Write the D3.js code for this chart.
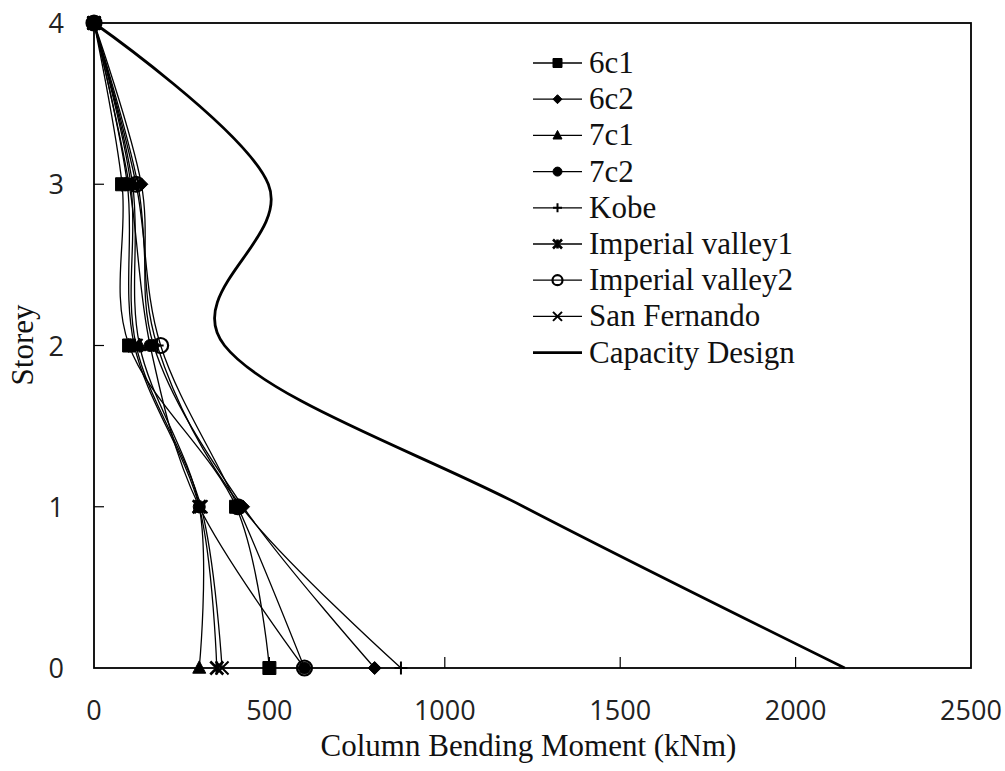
<!DOCTYPE html>
<html>
<head>
<meta charset="utf-8">
<script src="https://cdn.jsdelivr.net/npm/d3@7/dist/d3.min.js"></script>
<style>
  html, body { margin: 0; padding: 0; background: #fff; }
  svg { display: block; }
</style>
</head>
<body>
<svg id="chart" width="1005" height="771"></svg>
<script>
// Storey levels (y values) shared by every series
const storeys = [0, 1, 2, 3, 4];

// Column bending moment (kNm) at storeys 0..4 for each record
const series6c1 = [500, 405, 100, 80, 0];
const series6c2 = [800, 425, 170, 135, 0];
const series7c1 = [300, 300, 130, 110, 0];
const series7c2 = [600, 300, 160, 100, 0];
const seriesKobe = [875, 420, 180, 125, 0];
const seriesImperial1 = [350, 300, 115, 95, 0];
const seriesImperial2 = [600, 410, 190, 120, 0];
const seriesSanFernando = [365, 305, 120, 105, 0];
const capacityDesign = [2140, 1225, 372, 497, 0];

const seriesNames = ["6c1", "6c2", "7c1", "7c2", "Kobe", "Imperial valley1", "Imperial valley2", "San Fernando"];
const seriesValues = [series6c1, series6c2, series7c1, series7c2, seriesKobe, seriesImperial1, seriesImperial2, seriesSanFernando];
const markerKinds = ["square", "diamond", "triangle", "circle", "plus", "asterisk", "opencircle", "times"];

const xTicks = [0, 500, 1000, 1500, 2000, 2500];
const yTicks = [0, 1, 2, 3, 4];

const svg = d3.select("#chart");
const plot = { left: 94, right: 971, top: 23, bottom: 668 };

const x = d3.scaleLinear().domain([0, 2500]).range([plot.left, plot.right]);
const y = d3.scaleLinear().domain([0, 4]).range([plot.bottom, plot.top]);

// Marker shapes, drawn around (0,0) with half-size r
function markerPath(kind, r) {
  const p = d3.path();
  switch (kind) {
    case "square":
      p.rect(-r, -r, 2 * r, 2 * r); break;
    case "diamond":
      p.moveTo(0, -r); p.lineTo(r, 0); p.lineTo(0, r); p.lineTo(-r, 0); p.closePath(); break;
    case "triangle":
      p.moveTo(0, -r * 1.1); p.lineTo(r, r * 0.8); p.lineTo(-r, r * 0.8); p.closePath(); break;
    case "circle":
    case "opencircle":
      p.moveTo(r, 0); p.arc(0, 0, r, 0, 2 * Math.PI); break;
    case "plus":
      p.moveTo(-r, 0); p.lineTo(r, 0); p.moveTo(0, -r); p.lineTo(0, r); break;
    case "times":
      p.moveTo(-r, -r); p.lineTo(r, r); p.moveTo(-r, r); p.lineTo(r, -r); break;
    case "asterisk":
      p.moveTo(-r, -r); p.lineTo(r, r); p.moveTo(-r, r); p.lineTo(r, -r);
      p.moveTo(0, -r); p.lineTo(0, r); break;
  }
  return p.toString();
}
function markerStyle(sel, kind) {
  const filled = ["square", "diamond", "triangle", "circle"].includes(kind);
  sel.attr("fill", filled ? "#000" : "none")
     .attr("stroke", "#000")
     .attr("stroke-width", filled ? 1 : (kind === "opencircle" ? 2.2 : (kind === "asterisk" ? 2.6 : 2)));
}
const markerSize = { square: 6.5, diamond: 6.5, triangle: 6.5, circle: 6, opencircle: 7.5, plus: 6.5, times: 6.5, asterisk: 6.5 };

// Axis tick labels
const tickFont = "'Open Sans', 'Liberation Sans', sans-serif";
svg.append("g").selectAll("text").data(xTicks).join("text")
  .attr("x", d => x(d)).attr("y", 720)
  .attr("text-anchor", "middle")
  .attr("font-family", tickFont).attr("font-size", 27).attr("fill", "#222")
  .text(d => d);
svg.append("g").selectAll("text").data(yTicks).join("text")
  .attr("x", 64).attr("y", d => y(d) + 10)
  .attr("text-anchor", "end")
  .attr("font-family", tickFont).attr("font-size", 27).attr("fill", "#222")
  .text(d => d);

// Inward tick marks
svg.append("g").selectAll("line").data(xTicks.slice(1, -1)).join("line")
  .attr("x1", d => x(d)).attr("x2", d => x(d))
  .attr("y1", plot.bottom).attr("y2", plot.bottom - 11)
  .attr("stroke", "#000").attr("stroke-width", 1.2);
svg.append("g").selectAll("line").data(yTicks.slice(1, -1)).join("line")
  .attr("x1", plot.left).attr("x2", plot.left + 10)
  .attr("y1", d => y(d)).attr("y2", d => y(d))
  .attr("stroke", "#000").attr("stroke-width", 1.2);

// Plot frame
svg.append("rect")
  .attr("x", plot.left).attr("y", plot.top)
  .attr("width", plot.right - plot.left).attr("height", plot.bottom - plot.top)
  .attr("fill", "none").attr("stroke", "#000").attr("stroke-width", 1.8);

// Axis titles
const serif = "'Liberation Serif', 'Times New Roman', serif";
svg.append("text")
  .attr("x", (plot.left + plot.right) / 2 - 4).attr("y", 756)
  .attr("text-anchor", "middle")
  .attr("font-family", serif).attr("font-size", 31).attr("fill", "#111")
  .text("Column Bending Moment (kNm)");
svg.append("text")
  .attr("transform", "translate(33,345) rotate(-90)")
  .attr("text-anchor", "middle")
  .attr("font-family", serif).attr("font-size", 31).attr("fill", "#111")
  .text("Storey");

// Smoothed lines through the storey points
const smooth = d3.line()
  .x(d => x(d[0])).y(d => y(d[1]))
  .curve(d3.curveCatmullRom.alpha(0));
const toPoints = vals => vals.map((v, i) => [v, storeys[i]]);

svg.append("path")
  .attr("d", smooth(toPoints(capacityDesign)))
  .attr("fill", "none").attr("stroke", "#000").attr("stroke-width", 2.8);

const lines = svg.append("g");
seriesValues.forEach(vals => {
  lines.append("path")
    .attr("d", smooth(toPoints(vals)))
    .attr("fill", "none").attr("stroke", "#000").attr("stroke-width", 1.3);
});

const marks = svg.append("g");
seriesValues.forEach((vals, si) => {
  const kind = markerKinds[si];
  marks.selectAll(null).data(toPoints(vals)).join("path")
    .attr("transform", d => `translate(${x(d[0])},${y(d[1])})`)
    .attr("d", markerPath(kind, markerSize[kind]))
    .call(markerStyle, kind);
});

// Legend
const legend = svg.append("g");
const legendItems = seriesNames.map((n, i) => ({ name: n, kind: markerKinds[i] }))
  .concat([{ name: "Capacity Design", kind: null }]);
legendItems.forEach((item, i) => {
  const ly = 63 + i * 36.2;
  legend.append("line")
    .attr("x1", 533).attr("x2", 582).attr("y1", ly).attr("y2", ly)
    .attr("stroke", "#000").attr("stroke-width", item.kind ? 1.3 : 2.8);
  if (item.kind) {
    legend.append("path")
      .attr("transform", `translate(557.5,${ly})`)
      .attr("d", markerPath(item.kind, item.kind === "opencircle" ? 5 : 4.5))
      .call(markerStyle, item.kind);
  }
  legend.append("text")
    .attr("x", 589).attr("y", ly + 10)
    .attr("font-family", serif).attr("font-size", 31).attr("fill", "#111")
    .text(item.name);
});
</script>
</body>
</html>
